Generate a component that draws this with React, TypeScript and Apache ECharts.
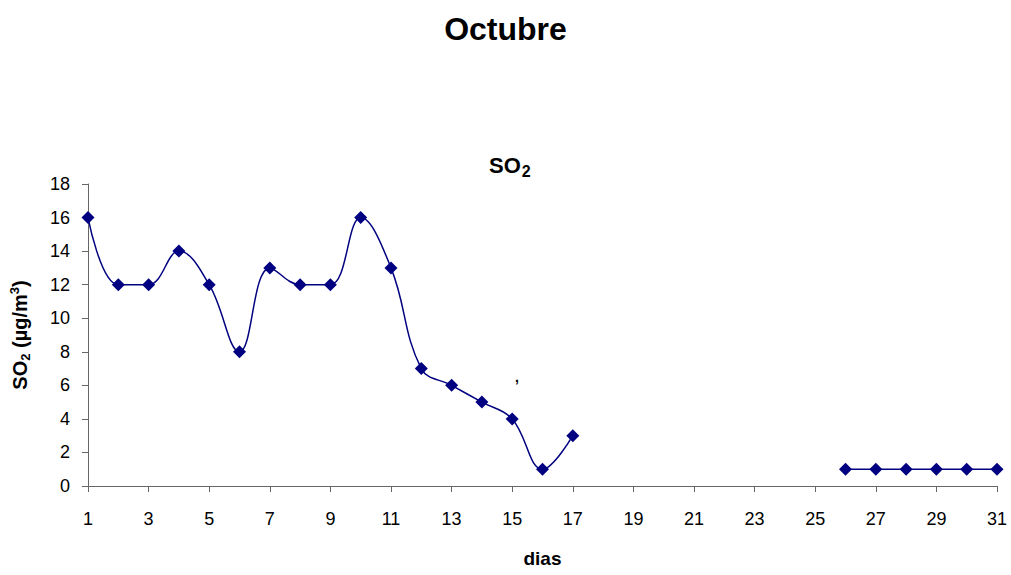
import React, { useEffect, useRef } from "react";
import * as echarts from "echarts";

const days = [1, 2, 3, 4, 5, 6, 7, 8, 9, 10, 11, 12, 13, 14, 15, 16, 17, 18, 19, 20, 21, 22, 23, 24, 25, 26, 27, 28, 29, 30, 31];
const so2Values: (number | null)[] = [16, 12, 12, 14, 12, 8, 13, 12, 12, 16, 13, 7, 6, 5, 4, 1, 3, null, null, null, null, null, null, null, null, 1, 1, 1, 1, 1, 1];
const chartTitle = "Octubre";
const xName = "dias";

export default function App() {
  const ref = useRef<HTMLDivElement>(null);
  useEffect(() => {
    if (!ref.current) return;
    const chart = echarts.init(ref.current, undefined, { renderer: "svg" });
    const font = "Liberation Sans, Arial, sans-serif";
    chart.setOption({
      animation: false,
      backgroundColor: "#fff",
      textStyle: { fontFamily: font },
      title: [
        {
          text: chartTitle,
          left: "center",
          top: 8,
          textStyle: { fontSize: 32, fontWeight: "bold", color: "#000", fontFamily: font },
        },
        {
          text: "{a|SO}{s|2}",
          left: 484,
          top: 149,
          textStyle: {
            fontFamily: font,
            rich: {
              a: { fontSize: 22, fontWeight: "bold", color: "#000", fontFamily: font, verticalAlign: "top" },
              s: { fontSize: 16, fontWeight: "bold", color: "#000", fontFamily: font, verticalAlign: "top", padding: [9, 0, 0, 1] },
            },
          },
        },
      ],
      graphic: [
        { type: "text", left: 514, top: 364, style: { text: ",", fontSize: 21, fill: "#000", fontFamily: font } },
      ],
      grid: { left: 88, right: 14, top: 184, bottom: 89 },
      xAxis: {
        type: "value",
        min: 1,
        max: 31,
        interval: 2,
        name: xName,
        nameLocation: "middle",
        nameGap: 63,
        nameTextStyle: { fontSize: 19, fontWeight: "bold", color: "#000", fontFamily: font },
        axisLine: { lineStyle: { color: "#666", width: 1 } },
        axisTick: { show: true, length: 6, lineStyle: { color: "#666" } },
        axisLabel: { fontSize: 18, color: "#000", margin: 24, fontFamily: font },
        splitLine: { show: false },
      },
      yAxis: {
        type: "value",
        min: 0,
        max: 18,
        interval: 2,
        name: "{a|SO}{s|2}{a| (µg/m}{p|3}{a|)}",
        nameLocation: "middle",
        nameRotate: 90,
        nameGap: 56,
        nameTextStyle: {
          fontFamily: font,
          rich: {
            a: { fontSize: 20, fontWeight: "bold", color: "#000", fontFamily: font, verticalAlign: "top" },
            s: { fontSize: 13, fontWeight: "bold", color: "#000", fontFamily: font, verticalAlign: "top", padding: [9, 0, 0, 0] },
            p: { fontSize: 13, fontWeight: "bold", color: "#000", fontFamily: font, verticalAlign: "top", padding: [-2, 0, 0, 0] },
          },
        },
        axisLine: { show: true, lineStyle: { color: "#666", width: 1 } },
        axisTick: { show: true, length: 6, lineStyle: { color: "#666" } },
        axisLabel: { fontSize: 18, color: "#000", margin: 18, fontFamily: font },
        splitLine: { show: false },
      },
      series: [
        {
          type: "line",
          data: days.map((d, i) => [d, so2Values[i]]),
          connectNulls: false,
          smooth: 0.4,
          symbol: "diamond",
          symbolSize: 13,
          itemStyle: { color: "#000080" },
          lineStyle: { color: "#000080", width: 1.5 },
        },
      ],
    });
    return () => chart.dispose();
  }, []);
  return <div ref={ref} style={{ position: "absolute", left: 0, top: 0, width: 1011, height: 575 }} />;
}
